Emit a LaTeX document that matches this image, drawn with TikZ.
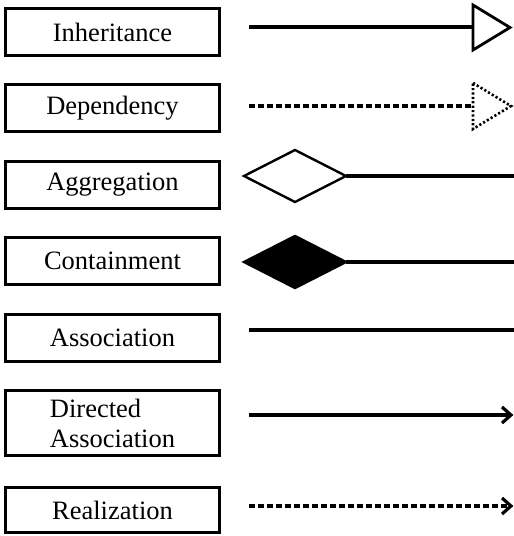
\documentclass[tikz,border=0pt]{standalone}
\usepackage{fontspec}
\setmainfont{Liberation Serif}
\usetikzlibrary{shapes.geometric}
\begin{document}
\begin{tikzpicture}[x=1pt,y=-1pt,
  kind/.style={draw, line width=3pt, minimum width=214pt, minimum height=47pt,
    inner sep=0pt, outer sep=0pt, font=\fontsize{26.5}{30}\selectfont},
  solidrel/.style={line width=3.4pt},
  dashrel/.style={line width=3.2pt, dash pattern=on 6pt off 3pt},
  headline/.style={line width=2.8pt, line join=miter},
  dothead/.style={line width=2.6pt, dash pattern=on 2.2pt off 2.2pt},
  barb/.style={line width=3.2pt, line join=miter},
  rhomb/.style={diamond, draw, line width=2.4pt, minimum width=102pt, minimum height=52pt,
    inner sep=0pt, outer sep=0pt}
]
\useasboundingbox (0,0) rectangle (514,536);

% relationship names
\node[kind] (inh) at (112.5,32) {Inheritance};
\node[kind] (dep) at (112.5,108) {Dependency};
\node[kind] (agg) at (112.5,184.5) {Aggregation};
\node[kind] (con) at (112.5,260.5) {Containment};
\node[kind] (ass) at (112.5,337.5) {Association};
\node[kind, minimum height=65pt, align=left] (dir) at (112.5,423) {Directed\\Association};
\node[kind, minimum height=45pt] (rea) at (112.5,510) {Realization};

% inheritance: solid line with hollow triangle
\coordinate (inhA) at (249,27);
\coordinate (inhB) at (473,27);
\coordinate (inhT1) at (473,5);
\coordinate (inhT2) at (510,27.5);
\coordinate (inhT3) at (473,50);
\draw[solidrel] (inhA) -- (inhB);
\draw[headline] (inhT1) -- (inhT2) -- (inhT3) -- cycle;

% dependency: dashed line with dotted triangle
\coordinate (depA) at (249,106);
\coordinate (depB) at (473,106);
\coordinate (depT1) at (473,83);
\coordinate (depT2) at (511,106);
\coordinate (depT3) at (473,129);
\draw[dashrel] (depA) -- (depB);
\draw[dothead] (depT1) -- (depT2) -- (depT3) -- cycle;

% aggregation: hollow diamond
\node[rhomb] (aggd) at (295,176) {};
\coordinate (aggB) at (514,176);
\draw[solidrel] (aggd.east) -- (aggB);

% containment: filled diamond
\node[rhomb, fill=black] (cond) at (295,262) {};
\coordinate (conB) at (514,262);
\draw[solidrel] (cond.east) -- (conB);

% association: plain line
\coordinate (assA) at (249,330);
\coordinate (assB) at (514,330);
\draw[solidrel] (assA) -- (assB);

% directed association: line with open arrowhead
\coordinate (dirA) at (249,415);
\coordinate (dirB) at (511,415);
\coordinate (dirU) at (502,407);
\coordinate (dirL) at (502,423);
\draw[solidrel] (dirA) -- (dirB);
\draw[barb] (dirU) -- (dirB) -- (dirL);

% realization: dashed line with open arrowhead
\coordinate (reaA) at (249,506);
\coordinate (reaB) at (511,506);
\coordinate (reaU) at (502,498);
\coordinate (reaL) at (502,514);
\draw[dashrel] (reaA) -- (reaB);
\draw[barb] (reaU) -- (reaB) -- (reaL);
\end{tikzpicture}
\end{document}
